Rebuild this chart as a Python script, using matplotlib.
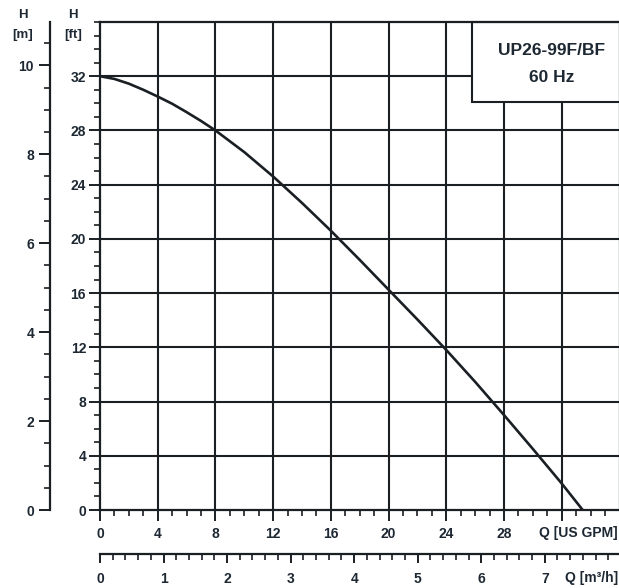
import matplotlib
matplotlib.use("Agg")
import matplotlib.pyplot as plt
from matplotlib.ticker import MultipleLocator, FixedLocator
from matplotlib.patches import Rectangle

plt.rcParams['font.family'] = ['Liberation Sans', 'DejaVu Sans']
plt.rcParams['font.weight'] = 'bold'

# Pump curve UP26-99F/BF at 60 Hz: flow in US GPM, head in feet
flow_gpm = [0, 1, 2, 3, 4, 5, 6, 7, 8, 10, 12, 14, 16, 18, 20, 22, 24, 26, 28,
            30, 32, 33.45]
head_ft = [32, 31.8, 31.45, 31.0, 30.5, 29.97, 29.35, 28.7, 28.0, 26.4, 24.6,
           22.65, 20.6, 18.45, 16.25, 14.05, 11.8, 9.45, 7.0, 4.5, 1.95, 0]

gpm_ticks = [0, 4, 8, 12, 16, 20, 24, 28]
ft_ticks = [0, 4, 8, 12, 16, 20, 24, 28, 32]
m_ticks = [0, 2, 4, 6, 8, 10]
m3h_ticks = [0, 1, 2, 3, 4, 5, 6, 7]
title_lines = ["UP26-99F/BF", "60 Hz"]

FT_PER_M = 1 / 0.3048
GPM_PER_M3H = 4.402868

INK = '#1a1f24'
TXT = '#1d2833'
W, H = 619, 588
fig = plt.figure(figsize=(W / 100, H / 100), dpi=100)
fig.patch.set_facecolor('white')

def fx(px):
    return px / W

def fy(py):
    return 1 - py / H

left, right, bottom, top = 100, 619.5, 510, 22
ax = fig.add_axes([fx(left), fy(bottom), (right - left) / W, (bottom - top) / H])
ax.set_xlim(0, 36)
ax.set_ylim(0, 36)

# grid
for g in range(4, 36, 4):
    ax.axvline(g, color=INK, lw=1.5, zorder=1)
    ax.axhline(g, color=INK, lw=1.5, zorder=1)

ax.plot(flow_gpm, head_ft, color=INK, lw=1.9, zorder=3,
        solid_capstyle='butt', solid_joinstyle='round')

# model label box in the upper right corner
ax.add_patch(Rectangle((25.8, 30.1), 10.5, 5.9, facecolor='white', edgecolor=INK,
                       lw=1.5, zorder=4, clip_on=False))
ax.text(31.3, (510 - 51) / 13.53, title_lines[0], ha='center', va='center',
        fontsize=12.5, color=TXT, zorder=5)
ax.text(31.3, (510 - 78) / 13.53, title_lines[1], ha='center', va='center',
        fontsize=12.5, color=TXT, zorder=5)

for s in ax.spines.values():
    s.set_color(INK)
    s.set_linewidth(1.6)
    s.set_zorder(6)

ax.xaxis.set_major_locator(FixedLocator(gpm_ticks + [32]))
ax.set_xticklabels([str(t) for t in gpm_ticks] + [''])
ax.xaxis.set_minor_locator(MultipleLocator(1))
ax.yaxis.set_major_locator(FixedLocator(ft_ticks))
ax.set_yticklabels([str(t) for t in ft_ticks])
ax.yaxis.set_minor_locator(MultipleLocator(1))
ax.tick_params(axis='both', which='major', length=8, width=1.4, color=INK,
               labelsize=10, labelcolor=TXT)
ax.tick_params(axis='both', which='minor', length=4, width=1.2, color=INK)
ax.tick_params(axis='x', which='major', pad=4)
ax.tick_params(axis='y', which='major', pad=2)

# head in metres
secy = ax.secondary_yaxis((50 - left) / (right - left),
                          functions=(lambda f: f / FT_PER_M, lambda m: m * FT_PER_M))
secy.yaxis.set_major_locator(FixedLocator(m_ticks))
secy.set_yticklabels([str(t) for t in m_ticks])
secy.yaxis.set_minor_locator(MultipleLocator(0.5))
secy.tick_params(which='major', length=8, width=1.4, color=INK, labelsize=10,
                 labelcolor=TXT, pad=3.5)
secy.tick_params(which='minor', length=4, width=1.2, color=INK)
secy.spines['left'].set_color(INK)
secy.spines['left'].set_linewidth(1.6)

# flow in m3/h
secx = ax.secondary_xaxis((bottom - 554) / (bottom - top),
                          functions=(lambda g: g / GPM_PER_M3H, lambda q: q * GPM_PER_M3H))
secx.xaxis.set_major_locator(FixedLocator(m3h_ticks))
secx.set_xticklabels([str(t) for t in m3h_ticks])
secx.xaxis.set_minor_locator(MultipleLocator(0.2))
secx.tick_params(which='major', length=6.5, width=1.4, color=INK, labelsize=10,
                 labelcolor=TXT, pad=6.5)
secx.tick_params(which='minor', length=4, width=1.2, color=INK)
secx.spines['bottom'].set_color(INK)
secx.spines['bottom'].set_linewidth(1.6)

# axis names
fig.text(fx(618), fy(533), "Q [US GPM]", ha='right', va='center', fontsize=10, color=TXT)
fig.text(fx(618), fy(578), "Q [m³/h]", ha='right', va='center', fontsize=10, color=TXT)
fig.text(fx(23), fy(15), "H", ha='center', va='center', fontsize=9.5, color=TXT)
fig.text(fx(23), fy(35), "[m]", ha='center', va='center', fontsize=9.5, color=TXT)
fig.text(fx(73), fy(15), "H", ha='center', va='center', fontsize=9.5, color=TXT)
fig.text(fx(73), fy(35), "[ft]", ha='center', va='center', fontsize=9.5, color=TXT)

fig.savefig("out.png", dpi=100, facecolor='white')
